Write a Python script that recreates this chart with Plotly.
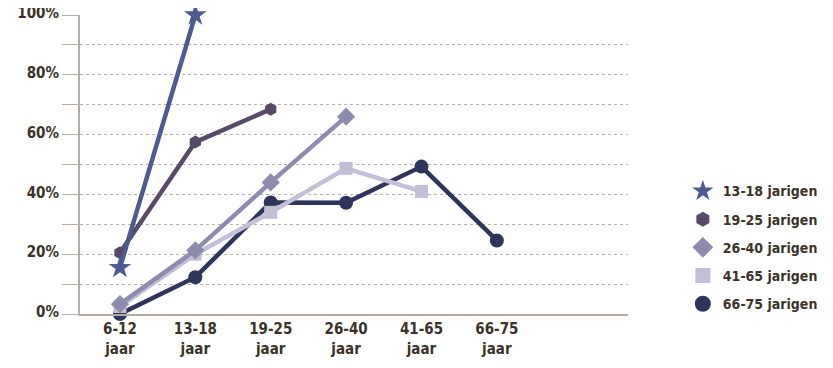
import plotly.graph_objects as go

categories = ["6-12<br>jaar", "13-18<br>jaar", "19-25<br>jaar", "26-40<br>jaar", "41-65<br>jaar", "66-75<br>jaar"]

series_names = ["13-18 jarigen", "19-25 jarigen", "26-40 jarigen", "41-65 jarigen", "66-75 jarigen"]
v_13_18 = [0.155, 1.00]
v_19_25 = [0.205, 0.575, 0.685]
v_26_40 = [0.033, 0.213, 0.44, 0.66]
v_41_65 = [0.025, 0.20, 0.34, 0.487, 0.41]
v_66_75 = [0.0, 0.123, 0.373, 0.372, 0.493, 0.246]

values = [v_13_18, v_19_25, v_26_40, v_41_65, v_66_75]
colors = ["#4f5a8e", "#574a66", "#8e8cae", "#c2bfd6", "#2f355a"]
symbols = ["star", "hexagon", "diamond", "square", "circle"]
sizes = [17, 13, 14, 13, 14]

tick_vals = [0, 0.1, 0.2, 0.3, 0.4, 0.5, 0.6, 0.7, 0.8, 0.9, 1.0]
tick_text = ["0%", "", "20%", "", "40%", "", "60%", "", "80%", "", "100%"]

font_family = "DejaVu Sans Condensed, DejaVu Sans, sans-serif"
text_color = "#3b3228"

fig = go.Figure()
for i in reversed(range(len(series_names))):
    vals = values[i]
    fig.add_trace(go.Scatter(
        x=categories[:len(vals)], y=vals, name=series_names[i],
        mode="lines+markers", showlegend=False,
        line=dict(color=colors[i], width=4.5),
        marker=dict(symbol=symbols[i], size=sizes[i], color=colors[i]),
    ))
# legend-only entries (markers only)
for i in range(len(series_names)):
    fig.add_trace(go.Scatter(
        x=[None], y=[None], name="<b>" + series_names[i] + "</b>", mode="markers",
        legendgroup=series_names[i],
        marker=dict(symbol=symbols[i], size=sizes[i] + 2, color=colors[i]),
    ))

fig.update_layout(
    width=825, height=352,
    margin=dict(l=72, r=205, t=7, b=46),
    paper_bgcolor="white", plot_bgcolor="white",
    font=dict(family=font_family, size=15, color=text_color),
    showlegend=True,
    legend=dict(xref="container", yref="container", x=0.818, y=0.32,
                xanchor="left", yanchor="middle",
                traceorder="grouped", font=dict(size=14, color=text_color),
                itemsizing="trace", tracegroupgap=7, itemwidth=30,
                bgcolor="rgba(0,0,0,0)", borderwidth=0),
)
fig.update_xaxes(
    type="category", categoryorder="array", categoryarray=categories,
    range=[-0.53, 6.74], showgrid=False, showline=True, linecolor="#b5ada5", linewidth=2,
    ticks="", tickfont=dict(size=15, color=text_color, weight="bold"), zeroline=False,
    automargin=False,
)
fig.update_yaxes(
    range=[0, 1.0], tickvals=tick_vals, ticktext=tick_text,
    showgrid=True, gridcolor="#b8b0a8", griddash="dot", gridwidth=1,
    showline=True, linecolor="#b5ada5", linewidth=2,
    ticks="outside", ticklen=16, tickcolor="#b5ada5", tickwidth=1,
    tickfont=dict(size=15, color=text_color, weight="bold"), zeroline=False,
    automargin=False, ticklabeloverflow="allow", ticklabelshift=-2,
)
fig.update_traces(cliponaxis=False)
fig.write_html("out.html")
